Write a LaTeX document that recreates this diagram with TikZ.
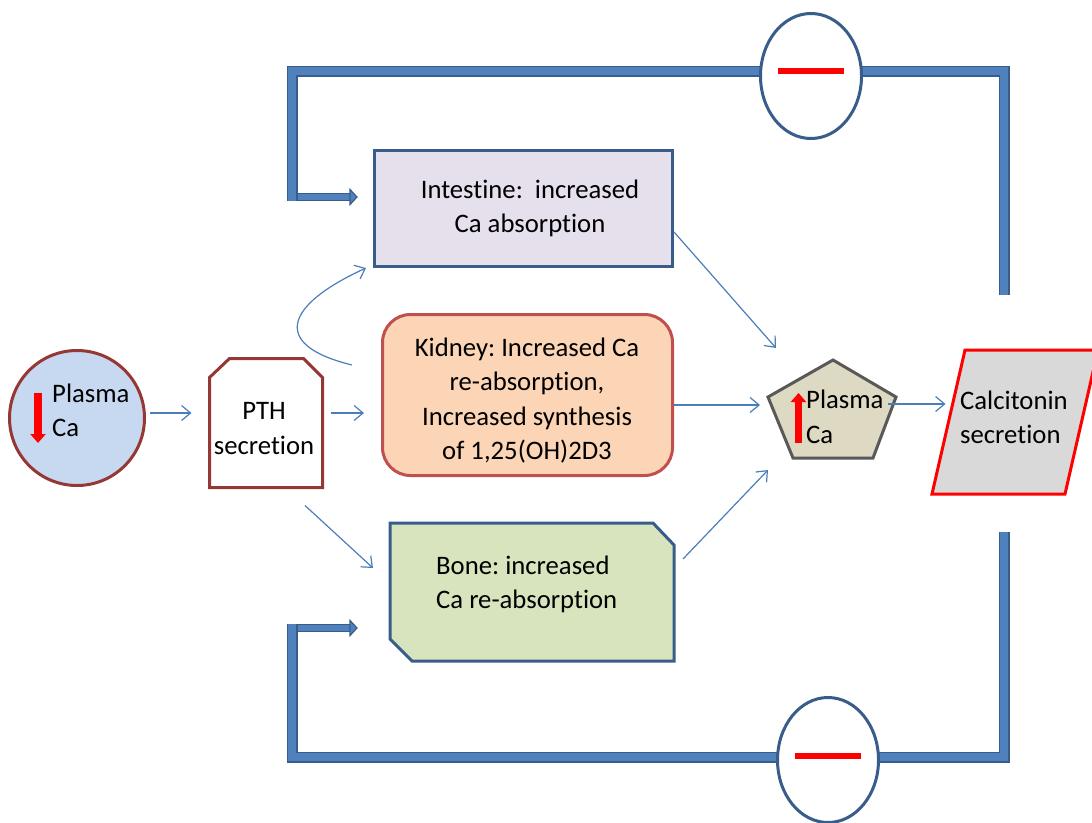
\documentclass[tikz,border=0pt]{standalone}
\usepackage{fontspec}
\setmainfont[Ligatures={NoCommon,NoContextual}]{Carlito}
\usetikzlibrary{arrows.meta,calc,shapes.geometric}
\definecolor{circfill}{HTML}{C6D9F1}
\definecolor{dred}{HTML}{953735}
\definecolor{intfill}{HTML}{E5E0EC}
\definecolor{bbord}{HTML}{385D8A}
\definecolor{kidfill}{HTML}{FBD5B5}
\definecolor{kidbord}{HTML}{C0504D}
\definecolor{bonefill}{HTML}{D7E4BD}
\definecolor{pentfill}{HTML}{DDD9C3}
\definecolor{pentbord}{HTML}{595959}
\definecolor{calcfill}{HTML}{D9D9D9}
\definecolor{connc}{HTML}{4A7EBB}
\definecolor{fblight}{HTML}{4F81BD}
\frenchspacing
\begin{document}
\begin{tikzpicture}[x=1pt,y=-1pt,
  shp/.style={inner sep=0pt, line width=3pt},
  txt/.style={inner sep=0pt, font=\fontsize{26.7}{34.5}\selectfont, text height=18pt, text depth=6pt},
  conn/.style={draw=connc, line width=1.2pt, -{Straight Barb[length=9pt,width=15pt]}},
  fb/.style={draw=bbord, line width=1.5pt, double=fblight, double distance=8pt},
  fbb/.style={draw=bbord, line width=1.2pt, double=fblight, double distance=5.5pt},
  fbhead/.style={fill=fblight, draw=bbord, line width=1.2pt, line join=miter},
  redarrow/.style={draw=red, line width=7.5pt, -{Triangle[length=9pt,width=15pt]}},
  minus/.style={draw=red, line width=6pt}
]
\useasboundingbox (0,0) rectangle (1092,822);

% ---- shapes ----
\node[shp, circle, minimum size=135pt, fill=circfill, draw=dred] (circ) at (77,418) {};
\node[shp, minimum width=110pt, minimum height=126pt] (pth) at (266,423) {};
\draw[shp, draw=dred, fill=white] (pth.south west) -- ($(pth.north west)+(0,19)$) -- ($(pth.north west)+(20,0)$)
  -- ($(pth.north east)+(-19,0)$) -- ($(pth.north east)+(0,19)$) -- (pth.south east) -- cycle;
\node[shp, rectangle, minimum width=298pt, minimum height=116pt, fill=intfill, draw=bbord] (intest) at (523.5,208.5) {};
\node[shp, rectangle, rounded corners=28pt, minimum width=290pt, minimum height=161pt, fill=kidfill, draw=kidbord] (kidney) at (527.5,395) {};
\node[shp, minimum width=281pt, minimum height=135pt] (bone) at (532,592) {};
\draw[shp, draw=bbord, fill=bonefill] (bone.north west) -- ($(bone.north east)+(-21,0)$) -- ($(bone.north east)+(0,22)$)
  -- (bone.south east) -- ($(bone.south west)+(22,0)$) -- ($(bone.south west)+(0,-22)$) -- cycle;
\node[shp, minimum width=127pt, minimum height=97pt] (pent) at (832,409) {};
\draw[shp, draw=pentbord, fill=pentfill, line join=miter] (833,360) -- (896,397) -- (873,458) -- (793,458) -- (768,397) -- cycle;
\node[shp, minimum width=166pt, minimum height=146pt] (calc) at (1015,422) {};
\draw[shp, draw=red, fill=calcfill, line join=miter] (965,350) -- (1098,350) -- (1065,494) -- (932,494) -- cycle;

% ---- feedback loops ----
\coordinate (ftop) at (1004,295);
\coordinate (fbot) at (1004,532);
\draw[fbb] (288,197) -- ($(intest.west)+(-23,-11.5)$);
\draw[fbhead] ($(intest.west)+(-23,-19)$) -- ($(intest.west)+(-16,-11.5)$) -- ($(intest.west)+(-23,-4)$) -- cycle;
\draw[fb] (ftop) -- (1004,71) -- (292,71) -- (292,201);
\draw[fbb] (288,628) -- ($(bone.west)+(-40,36)$);
\draw[fbhead] ($(bone.west)+(-40,28.5)$) -- ($(bone.west)+(-33,36)$) -- ($(bone.west)+(-40,43.5)$) -- cycle;
\draw[fb] (fbot) -- (1004,757) -- (292,757) -- (292,624);
\node[shp, ellipse, minimum width=101pt, minimum height=125pt, fill=white, draw=bbord] (mtop) at (811,76) {};
\node[shp, ellipse, minimum width=101pt, minimum height=125pt, fill=white, draw=bbord] (mbot) at (828,760) {};
\draw[minus] ($(mtop.center)+(-33,-5)$) -- ($(mtop.center)+(33,-5)$);
\draw[minus] ($(mbot.center)+(-33,-4)$) -- ($(mbot.center)+(33,-4)$);

% ---- texts ----
\node[txt, align=left, anchor=west] (circtxt) at (52,430.5) {Plasma\\Ca};
\node[txt, align=center] (pthtxt) at (264,448) {PTH\\secretion};
\node[txt, align=center] (inttxt) at (530,226.5) {Intestine:~ increased\\Ca absorption};
\node[txt, align=center] (kidtxt) at (527,453.5) {Kidney: Increased Ca\\re-absorption,\\Increased synthesis\\of 1,25(OH)2D3};
\node[txt, align=left, anchor=west] (bonetxt) at (436,602.5) {Bone: increased\\Ca re-absorption};
\node[txt, align=left, anchor=west] (penttxt) at (806,437) {Plasma\\Ca};
\node[txt, align=left, anchor=west] (calctxt) at (960,437.5) {Calcitonin\\secretion};

% ---- red arrows ----
\draw[redarrow] ($(circ.center)+(-39,-25)$) -- ($(circ.center)+(-39,25)$);
\draw[redarrow] (798.5,443) -- (798.5,393);

% ---- connectors ----
\draw[conn] ($(circ.east)+(4,-5)$) -- ($(pth.west)+(-18,-10)$);
\draw[conn] ($(pth.east)+(8,-10)$) -- ($(kidney.west)+(-17,18)$);
\draw[conn] ($(kidney.north west)+(-29,52)$) .. controls (270,345) and (285,305) .. ($(intest.south west)+(-7,0)$);
\draw[conn] ($(pth.south)+(39,18)$) -- ($(bone.west)+(-17,-24)$);
\draw[conn] ($(intest.east)+(0,23.5)$) -- ($(pent.north west)+(9,-11)$);
\draw[conn] ($(kidney.east)+(0,10)$) -- ($(pent.west)+(-7,-4)$);
\draw[conn] ($(bone.east)+(9,-33)$) -- ($(pent.south west)+(1,11)$);
\draw[conn] ($(pent.east)+(-9,-5)$) -- ($(calc.west)+(15,-18)$);
\end{tikzpicture}
\end{document}
